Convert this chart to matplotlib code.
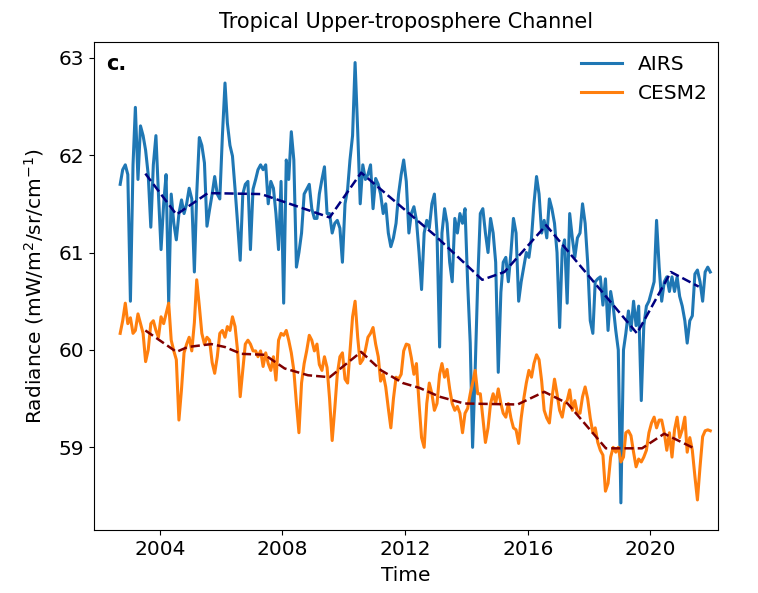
import numpy as np
import pandas as pd
import matplotlib
matplotlib.use('Agg')
import matplotlib.pyplot as plt
import matplotlib.dates as mdates

# monthly means, Sep 2002 - Dec 2021
airs = [61.7, 61.85, 61.9, 61.8,
        60.5, 61.9, 62.49, 61.75, 62.3, 62.2, 62.05, 61.8, 61.26, 61.9, 62.2, 61.6,
        61.03, 61.5, 61.8, 60.48, 61.6, 61.3, 61.13, 61.4, 61.54, 61.4, 61.5, 61.66,
        61.55, 60.8, 61.6, 62.18, 62.1, 61.92, 61.27, 61.44, 61.6, 61.78, 61.6, 61.55,
        62.2, 62.74, 62.33, 62.1, 61.99, 61.65, 61.3, 60.92, 61.6, 61.7, 61.73, 61.03,
        61.65, 61.75, 61.85, 61.9, 61.85, 61.9, 61.5, 61.73, 61.66, 61.4, 61.03, 61.73,
        60.48, 61.95, 61.75, 62.24, 61.95, 60.85, 61.0, 61.2, 61.6, 61.65, 61.7, 61.45,
        61.35, 61.35, 61.6, 61.75, 61.88, 61.4, 61.4, 61.2, 61.3, 61.33, 61.25, 60.9,
        61.5, 61.65, 61.95, 62.2, 62.95, 62.25, 61.5, 61.9, 61.75, 61.8, 61.9, 61.45,
        61.76, 61.7, 61.6, 61.4, 61.5, 61.2, 61.06, 61.15, 61.3, 61.6, 61.8, 61.95,
        61.73, 61.2, 61.4, 61.47, 61.33, 61.0, 60.62, 61.2, 61.33, 61.25, 61.5, 61.6,
        61.2, 60.03, 61.2, 61.45, 61.3, 60.9, 60.7, 61.35, 61.2, 61.4, 61.3, 61.45,
        60.69, 60.07, 59.0, 59.8, 60.7, 61.4, 61.45, 61.2, 61.0, 61.35, 61.2, 60.9,
        59.77, 60.59, 60.9, 60.95, 60.7, 61.0, 61.35, 61.2, 60.5, 60.7, 60.85, 61.0,
        60.95, 61.15, 61.5, 61.78, 61.6, 61.2, 61.33, 61.15, 61.55, 61.45, 61.3, 61.0,
        60.23, 61.03, 61.13, 60.48, 61.4, 61.15, 60.95, 61.15, 61.2, 61.5, 61.3, 60.9,
        60.3, 60.17, 60.7, 60.73, 60.75, 60.46, 60.73, 60.2, 60.6, 60.45, 60.2, 60.0,
        58.43, 60.0, 60.17, 60.4, 60.2, 60.5, 60.25, 60.45, 59.48, 60.25, 60.45, 60.5,
        60.6, 60.7, 61.33, 60.85, 60.5, 60.7, 60.75, 60.6, 60.75, 60.6, 60.75, 60.55,
        60.45, 60.3, 60.07, 60.3, 60.35, 60.78, 60.82, 60.7, 60.5, 60.8, 60.85, 60.8]

cesm2 = [60.17, 60.3, 60.48, 60.27,
         60.33, 60.17, 60.2, 60.37, 60.27, 60.17, 59.88, 60.0, 60.27, 60.3, 60.2, 60.13,
         60.34, 60.27, 60.37, 60.48, 60.1, 59.99, 59.9, 59.28, 59.6, 59.97, 60.06, 60.13,
         59.99, 60.28, 60.72, 60.45, 60.17, 60.06, 60.13, 60.1, 59.87, 59.76, 59.93, 60.17,
         60.2, 60.13, 60.24, 60.2, 60.34, 60.24, 59.99, 59.52, 59.8, 60.06, 60.1, 60.06,
         59.99, 59.99, 59.93, 59.99, 59.83, 59.97, 59.86, 59.79, 59.93, 59.69, 60.1, 60.17,
         60.15, 60.2, 60.1, 59.97, 59.79, 59.45, 59.15, 59.66, 59.86, 59.99, 60.15, 60.1,
         59.99, 60.06, 59.85, 59.79, 59.93, 59.82, 59.5, 59.07, 59.4, 59.75, 59.93, 59.97,
         59.7, 59.66, 59.99, 60.34, 60.5, 60.13, 59.86, 59.9, 60.0, 60.13, 60.17, 60.23,
         60.06, 59.93, 59.68, 59.75, 59.62, 59.4, 59.2, 59.5, 59.72, 59.7, 59.75, 59.99,
         60.06, 60.05, 59.92, 59.75, 59.86, 59.45, 59.1, 59.0, 59.45, 59.66, 59.55, 59.38,
         59.45, 59.75, 59.86, 59.72, 59.8, 59.6, 59.45, 59.38, 59.42, 59.35, 59.15, 59.35,
         59.4, 59.55, 59.66, 59.79, 59.55, 59.55, 59.3, 59.05, 59.2, 59.45, 59.55, 59.45,
         59.6, 59.45, 59.35, 59.31, 59.45, 59.3, 59.2, 59.18, 59.04, 59.3, 59.5, 59.66,
         59.79, 59.72, 59.86, 59.95, 59.9, 59.68, 59.38, 59.3, 59.25, 59.5, 59.7, 59.55,
         59.38, 59.31, 59.45, 59.48, 59.59, 59.38, 59.48, 59.35, 59.35, 59.52, 59.62, 59.5,
         59.3, 59.15, 59.2, 59.05, 58.97, 58.92, 58.55, 58.63, 58.9, 59.0, 58.95, 59.0,
         58.85, 58.9, 59.15, 59.17, 59.12, 58.95, 58.8, 58.88, 58.85, 58.9, 58.97, 59.15,
         59.25, 59.31, 59.2, 59.28, 59.28, 59.15, 58.97, 59.15, 58.9, 59.18, 59.31, 59.1,
         59.18, 59.31, 58.95, 59.1, 58.97, 58.7, 58.46, 58.8, 59.11, 59.17, 59.18, 59.17]

# smoothed trend lines (dashed)
airs_trend_dates = ['2003-07-12', '2004-07-16', '2005-07-26', '2007-04-22', '2009-07-16',
                    '2010-07-26', '2012-05-11', '2012-12-16', '2014-07-08', '2015-03-29',
                    '2016-08-07', '2019-07-26', '2020-09-02', '2021-07-30']
airs_trend = [61.81, 61.39, 61.61, 61.60, 61.36, 61.82, 61.34, 61.18, 60.72, 60.80,
              61.28, 60.17, 60.80, 60.65]

cesm2_trend_dates = ['2003-07-12', '2004-07-16', '2004-11-28', '2005-09-06', '2006-02-14',
                     '2006-08-28', '2007-06-03', '2008-01-26', '2008-10-31', '2009-07-16',
                     '2010-07-26', '2011-03-22', '2011-12-06', '2012-06-21', '2013-02-14',
                     '2013-12-06', '2015-09-02', '2016-07-16', '2017-04-20', '2018-07-20',
                     '2019-09-24', '2020-06-14', '2021-06-06']
cesm2_trend = [60.20, 59.98, 60.03, 60.06, 60.03, 59.96, 59.95, 59.81, 59.74, 59.72,
               59.98, 59.79, 59.66, 59.61, 59.52, 59.45, 59.44, 59.57, 59.45, 58.99,
               58.99, 59.14, 58.99]

time = pd.date_range('2002-09-01', periods=len(airs), freq='MS') + pd.Timedelta(days=14)

fig = plt.figure(figsize=(7.58, 5.93), dpi=100)
ax = fig.add_axes([0.124, 0.106, 0.823, 0.823])

ax.plot(time, airs, color='#1f77b4', linewidth=2.2, label='AIRS')
ax.plot(time, cesm2, color='#ff7f0e', linewidth=2.2, label='CESM2')
ax.plot(pd.to_datetime(airs_trend_dates), airs_trend, '--', color='#000080', linewidth=1.8)
ax.plot(pd.to_datetime(cesm2_trend_dates), cesm2_trend, '--', color='#800000', linewidth=1.8)

ax.set_xlim(pd.Timestamp('2001-11-07'), pd.Timestamp('2022-03-15'))
ax.set_ylim(58.15, 63.16)
ax.set_yticks([59, 60, 61, 62, 63])
ax.xaxis.set_major_locator(mdates.YearLocator(4))
ax.xaxis.set_major_formatter(mdates.DateFormatter('%Y'))
ax.tick_params(labelsize=14.5)

ax.set_xlabel('Time', fontsize=14.5, labelpad=5)
ax.set_ylabel('Radiance (mW/m$^2$/sr/cm$^{-1}$)', fontsize=14.5, labelpad=9)
ax.set_title('Tropical Upper-troposphere Channel', fontsize=15, pad=10)
ax.text(0.02, 0.975, 'c.', transform=ax.transAxes, fontsize=15, fontweight='bold',
        va='top', ha='left')
ax.legend(loc='upper right', frameon=False, fontsize=14.5, borderaxespad=0.1,
          bbox_to_anchor=(1.0, 0.995))

fig.savefig('out.png', dpi=100)
